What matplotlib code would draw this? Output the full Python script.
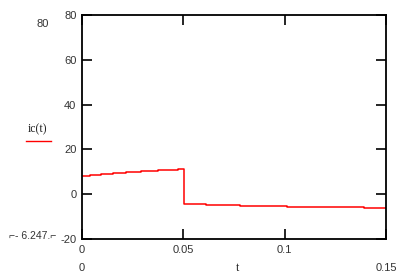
import numpy as np
import matplotlib
matplotlib.use('Agg')
import matplotlib.pyplot as plt

# step values of ic(t)
t_steps = [0.0, 0.0039, 0.0092, 0.0151, 0.0217, 0.0291, 0.0374, 0.0472,
           0.0503, 0.0612, 0.0781, 0.1013, 0.1393, 0.15]
ic_vals = [8.1, 8.6, 9.0, 9.3, 9.8, 10.2, 10.7, 11.1,
           -4.5, -5.0, -5.4, -5.8, -6.3, -6.3]

x_ticks = [0, 0.05, 0.1, 0.15]
x_tick_labels = ['0', '0.05', '0.1', '']
y_ticks = [-20, 0, 20, 40, 60, 80]
y_tick_labels = ['-20', '0', '20', '40', '60', '80']

num_font = ['Liberation Sans', 'DejaVu Sans']
txt_font = 'Liberation Serif'
fs = 8

fig = plt.figure(figsize=(4.13, 2.76), dpi=100)
ax = fig.add_axes([82 / 413, 1 - 239 / 276, 304 / 413, 224 / 276])

ax.plot(t_steps, ic_vals, color='#ff0000', linewidth=1.1, drawstyle='steps-post')

ax.set_xlim(0, 0.15)
ax.set_ylim(-20, 80)
ax.set_xticks(x_ticks)
ax.set_xticklabels(x_tick_labels, fontfamily=num_font, fontsize=fs)
ax.set_yticks(y_ticks)
ax.set_yticklabels(y_tick_labels, fontfamily=num_font, fontsize=fs)
ax.tick_params(direction='in', length=7, width=1.2, top=True, right=True,
               pad=4, colors='black', labelcolor='#333333')
for s in ax.spines.values():
    s.set_linewidth(1.3)

# подписи в стиле Mathcad вне осей
fig.text(43 / 413, 1 - 24 / 276, '80', fontfamily=num_font, fontsize=fs,
         color='#333333', ha='center', va='center')
fig.text(38 / 413, 1 - 129 / 276, 'ic(t)', fontfamily=txt_font, fontsize=8.5,
         color='#222222', ha='center', va='center')
fig.lines.append(plt.Line2D([26 / 413, 51 / 413], [1 - 141 / 276, 1 - 141 / 276],
                            color='#ff0000', linewidth=1.0, transform=fig.transFigure))
fig.text(56 / 413, 1 - 236 / 276, '\u2310- 6.247.\u2310', fontfamily=num_font,
         fontsize=7.5, color='#333333', ha='right', va='center')
fig.text(82 / 413, 1 - 268 / 276, '0', fontfamily=num_font, fontsize=fs,
         color='#333333', ha='center', va='center')
fig.text(238 / 413, 1 - 268 / 276, 't', fontfamily=txt_font, fontsize=8.5,
         color='#222222', ha='center', va='center')
fig.text(386 / 413, 1 - 268 / 276, '0.15', fontfamily=num_font, fontsize=fs,
         color='#333333', ha='center', va='center')

fig.savefig('out.png', dpi=100)
